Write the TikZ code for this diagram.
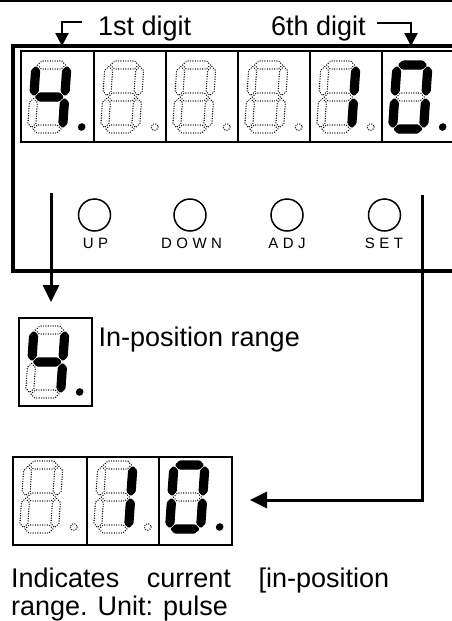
\documentclass[tikz,border=0pt]{standalone}
\usepackage{fontspec}
\setmainfont{Liberation Sans}
\usetikzlibrary{arrows.meta}
\hyphenpenalty=10000
\exhyphenpenalty=10000
\tolerance=10000
\hbadness=10000
\newcommand\hseg[4]{%
  \ifnum#1=1 \tikzset{cur/.style={onseg}}\else\tikzset{cur/.style={offseg}}\fi
  \path[cur] (#2+1.5,#4) -- (#2+5.5,#4-4) -- (#3-5.5,#4-4) -- (#3-1.5,#4) -- (#3-5.5,#4+4) -- (#2+5.5,#4+4) -- cycle;}
\newcommand\vseg[4]{%
  \ifnum#1=1 \tikzset{cur/.style={onseg}}\else\tikzset{cur/.style={offseg}}\fi
  \path[cur] (#2,#3+1.5) -- (#2+4,#3+5.5) -- (#2+4,#4-5.5) -- (#2,#4-1.5) -- (#2-4,#4-5.5) -- (#2-4,#3+5.5) -- cycle;}
\newcommand\dpoint[1]{%
  \ifnum#1=1 \fill[black] (50,62) circle (3.8);\else\draw[offseg] (50,62) circle (3.4);\fi}
\newcommand\sevseg[2]{%
  \begin{scope}[shift={#1}, xslant=0.07]
    \foreach \qa/\qb/\qc/\qd/\qe/\qf/\qg/\qh in {#2}{
      \hseg{\qa}{0}{31}{0}
      \vseg{\qb}{31}{0}{32}
      \vseg{\qc}{31}{32}{64}
      \hseg{\qd}{0}{31}{64}
      \vseg{\qe}{0}{32}{64}
      \vseg{\qf}{0}{0}{32}
      \hseg{\qg}{0}{31}{32}
      \dpoint{\qh}
    }
  \end{scope}}
\begin{document}
\begin{tikzpicture}[x=1pt,y=-1pt,
  onseg/.style={fill=black,draw=black,line width=1.2pt,rounded corners=1pt},
  offseg/.style={draw=black,line width=1.4pt,dash pattern=on 0pt off 2.4pt,line cap=round},
  cellbox/.style={draw=black,line width=2pt},
  panel/.style={draw=black,line width=3.5pt},
  bigarrow/.style={draw=black,line width=3pt,-{Triangle[length=17pt,width=16pt]}},
  smallarrow/.style={draw=black,line width=2.5pt,-{Triangle[length=13pt,width=13pt]}},
  btn/.style={circle,draw=black,line width=1.5pt,minimum size=32pt,inner sep=0pt},
  btnlabel/.style={font=\fontsize{15}{15}\selectfont,anchor=base,inner sep=0pt},
  bigtext/.style={font=\fontsize{27}{28}\selectfont,inner sep=0pt}]
\useasboundingbox (0,0) rectangle (452,621);
\clip (0,0) rectangle (452,621);
\fill[white] (0,0) rectangle (452,621);
% top rule
\draw[line width=2pt] (0,1) -- (452,1);
% panel
\draw[panel] (470,46) -- (13,46) -- (13,271) -- (470,271);
% top display cells
\foreach \xl/\xr in {21/94,94/166,166/238,238/310,310/382,382/460}
  \draw[cellbox] (\xl,51) rectangle (\xr,142);
\sevseg{(36,65)}{0/1/1/0/0/1/1/1}
\sevseg{(109,65)}{0/0/0/0/0/0/0/0}
\sevseg{(181,65)}{0/0/0/0/0/0/0/0}
\sevseg{(253,65)}{0/0/0/0/0/0/0/0}
\sevseg{(325,65)}{0/1/1/0/0/0/0/0}
\sevseg{(397,65)}{1/1/1/1/1/1/0/1}
% buttons
\node[btn] (up) at (94.5,215) {};
\node[btn] (down) at (190,215) {};
\node[btn] (adj) at (287,215) {};
\node[btn] (set) at (384.5,215) {};
\node[btnlabel] (upl) at (95.5,248) {U\kern4.5pt P};
\node[btnlabel] (downl) at (191.5,248) {D\kern4.5pt O\kern4.5pt W\kern4.5pt N};
\node[btnlabel] (adjl) at (287,248) {A\kern4.5pt D\kern4.5pt J};
\node[btnlabel] (setl) at (384,248) {S\kern4.5pt E\kern4.5pt T};
% top labels and arrows
\node[bigtext,anchor=base west] (t1) at (98,35) {1st digit};
\node[bigtext,anchor=base west] (t6) at (271,35) {6th digit};
\coordinate (a1s) at (82,22);
\coordinate (a1b) at (62,22);
\coordinate (a1e) at (62,46);
\draw[smallarrow] (a1s) -- (a1b) -- (a1e);
\coordinate (a6s) at (377,23);
\coordinate (a6b) at (411,23);
\coordinate (a6e) at (411,46);
\draw[smallarrow] (a6s) -- (a6b) -- (a6e);
% long arrows
\coordinate (ls) at (51,193);
\coordinate (le) at (51,302);
\draw[bigarrow] (ls) -- (le);
\coordinate (rs) at (422,195);
\coordinate (rb) at (422,500);
\coordinate (re) at (250,500);
\draw[bigarrow] (rs) -- (rb) -- (re);
% small display
\draw[cellbox] (19,318) rectangle (92,406);
\sevseg{(34,330)}{0/1/1/0/0/1/1/1}
\node[bigtext,anchor=base west] (tip) at (98.5,346) {In-position range};
% bottom display
\foreach \xl/\xr in {13/87,87/159,159/232}
  \draw[cellbox] (\xl,457) rectangle (\xr,545);
\sevseg{(28,465)}{0/0/0/0/0/0/0/0}
\sevseg{(102,465)}{0/1/1/0/0/0/0/0}
\sevseg{(174,465)}{1/1/1/1/1/1/0/1}
\node[bigtext,anchor=base west,text width=378pt,align=justify] (desc) at (11,587)
  {Indicates current [in-position range. Unit: pulse};
\end{tikzpicture}
\end{document}
